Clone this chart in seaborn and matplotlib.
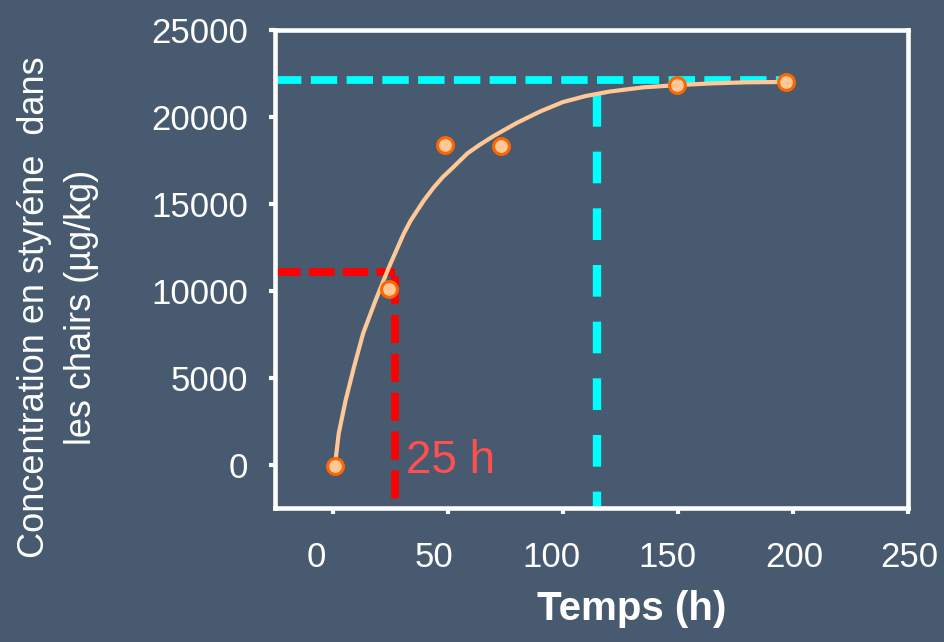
import numpy as np
import pandas as pd
import matplotlib
matplotlib.use('Agg')
import matplotlib.pyplot as plt
import matplotlib.transforms as mtransforms
import seaborn as sns

# --- données ---
temps_mesure = [1, 24.5, 49, 73, 149.5, 197]           # h
conc_mesure = [-100, 10100, 18400, 18350, 21820, 22010]  # µg/kg

# courbe d'ajustement
temps_courbe = [1, 2.7, 5.7, 9.3, 13.3, 18.7, 24.5, 31, 34, 39.7, 44, 48, 52, 58.6,
                64, 70, 80, 90, 100, 110, 120, 135, 150, 165, 180, 197]
conc_courbe = [-100, 1800, 3700, 5600, 7550, 9450, 11350, 13300, 14050, 15200,
               15950, 16550, 17050, 17900, 18400, 18900, 19650, 20300, 20850,
               21200, 21450, 21700, 21830, 21930, 21990, 22010]

demi_conc = 11100      # moitié du plateau
demi_temps = 27.2      # "25 h"
plateau = 22100
t_plateau = 115
conc_t_plateau = 21240
fin_plateau = 196

x_ticks = [0, 50, 100, 150, 200, 250]
y_ticks = [0, 5000, 10000, 15000, 20000, 25000]

fond = '#475a70'
peche = '#ffc896'
orange = '#ff6600'

sns.set_style('dark')
plt.rcParams['font.family'] = ['Liberation Sans', 'DejaVu Sans']

fig = plt.figure(figsize=(9.45, 6.42), dpi=100)
fig.patch.set_facecolor(fond)
ax = fig.add_axes([0.2910, 0.2087, 0.6698, 0.7446])
ax.set_facecolor(fond)

xmin, xmax = -25, 250
ymin, ymax = -2500, 25000

# lignes de repère
ax.plot([xmin, fin_plateau], [plateau, plateau], color='#00ffff', lw=5.6,
        dashes=(3.4, 1.2))
ax.plot([t_plateau, t_plateau], [conc_t_plateau, ymin], color='#00ffff', lw=6.0,
        dashes=(3.8, 3.0))
ax.plot([xmin, demi_temps], [demi_conc, demi_conc], color='#ff0000', lw=5.6,
        dashes=(3.3, 1.05))
ax.plot([demi_temps, demi_temps], [demi_conc - 250, ymin], color='#ff0000', lw=5.6,
        dashes=(3.6, 1.4))

# courbe + points
courbe = pd.DataFrame({'t': temps_courbe, 'c': conc_courbe})
sns.lineplot(data=courbe, x='t', y='c', ax=ax, color=peche, lw=3, sort=False)
mesures = pd.DataFrame({'t': temps_mesure, 'c': conc_mesure})
sns.scatterplot(data=mesures, x='t', y='c', ax=ax, s=130, color=peche,
                edgecolor=orange, linewidth=2.2, zorder=5)

ax.text(31.7, -500, '25 h', color='#ff5050', fontsize=33, ha='left', va='baseline')

ax.set_xlim(xmin, xmax)
ax.set_ylim(ymin, ymax)
ax.set_xticks(x_ticks)
ax.set_yticks(y_ticks)
ax.set_xlabel('')
ax.set_ylabel('')
ax.grid(False)

for s in ax.spines.values():
    s.set_visible(True)
    s.set_color('white')
    s.set_linewidth(3.3)

ax.tick_params(axis='both', colors='white', labelcolor='white', labelsize=25,
               direction='out', length=4.5, width=3, bottom=True, left=True)
ax.tick_params(axis='x', pad=19)
ax.tick_params(axis='y', pad=15)

# décalage des étiquettes de l'axe x comme sur l'original
decal_px = [-16, -14, -11, -10, 1, 1.5]
for lab, d in zip(ax.get_xticklabels(), decal_px):
    lab.set_transform(lab.get_transform() +
                      mtransforms.ScaledTranslation(d / 100, 0, fig.dpi_scale_trans))

fig.text(631.5 / 945, 1 - 609 / 642, 'Temps (h)', color='white', fontsize=29,
         fontweight='bold', ha='center', va='center')

fig.text(58 / 945, 1 - 307 / 642, 'Concentration en styréne  dans\nles chairs (µg/kg)',
         color='white', fontsize=26, rotation=90, ha='center', va='center',
         multialignment='center', linespacing=1.45)

fig.savefig('out.png', dpi=100, facecolor=fond)
